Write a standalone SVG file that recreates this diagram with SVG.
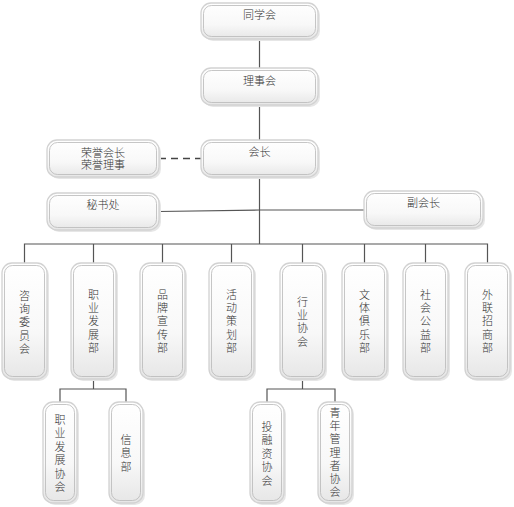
<svg xmlns="http://www.w3.org/2000/svg" width="514" height="507" viewBox="0 0 514 507">
<defs>
<linearGradient id="g" x1="0" y1="0" x2="0" y2="1">
<stop offset="0" stop-color="#ffffff"/>
<stop offset="0.6" stop-color="#f8f8f8"/>
<stop offset="1" stop-color="#e6e6e6"/>
</linearGradient>
</defs>
<style>
.o{fill:url(#g);stroke:#d2d2d2;stroke-width:1.3}
.i{fill:none;stroke:#b8b8b8;stroke-width:0.8}
.sh{fill:#e6e6e6}
.t{font-family:"Liberation Sans","Noto Sans CJK SC","Noto Sans CJK JP",sans-serif;font-size:11px;font-weight:300;fill:#333;text-anchor:middle}
.c{fill:none;stroke:#555;stroke-width:1.2}
.d{fill:none;stroke:#444;stroke-width:1.3;stroke-dasharray:7,5}
</style>
<rect width="514" height="507" fill="#fff"/>
<g id="connectors">
<line class="c" x1="259.5" y1="39" x2="259.5" y2="68"/>
<line class="c" x1="259.5" y1="105" x2="259.5" y2="140"/>
<line class="c" x1="259.5" y1="177" x2="259.5" y2="244"/>
<line class="d" x1="159" y1="158.5" x2="201" y2="158.5"/>
<line class="c" x1="159" y1="211.5" x2="259.5" y2="210"/>
<line class="c" x1="259.5" y1="210" x2="364" y2="210"/>
<polyline class="c" points="24.5,263 24.5,244 487.5,244 487.5,263"/>
<line class="c" x1="93.5" y1="244" x2="93.5" y2="263"/>
<line class="c" x1="162.5" y1="244" x2="162.5" y2="263"/>
<line class="c" x1="231.5" y1="244" x2="231.5" y2="263"/>
<line class="c" x1="302.5" y1="244" x2="302.5" y2="263"/>
<line class="c" x1="364.5" y1="244" x2="364.5" y2="263"/>
<line class="c" x1="425.5" y1="244" x2="425.5" y2="263"/>
<line class="c" x1="93.5" y1="379" x2="93.5" y2="389"/>
<polyline class="c" points="60,402 60,389 126,389 126,402"/>
<line class="c" x1="302.5" y1="379" x2="302.5" y2="389"/>
<polyline class="c" points="267,402 267,389 335,389 335,402"/>
</g>
<g id="n-tongxuehui">
<rect class="sh" x="203" y="5" width="117" height="36" rx="10"/>
<rect class="o" x="201" y="3" width="117" height="36" rx="10"/>
<rect class="i" x="203.5" y="5.5" width="112" height="31" rx="8"/>
<text class="t" x="259.5" y="19">同学会</text>
</g>
<g id="n-lishihui">
<rect class="sh" x="203" y="70" width="117" height="37" rx="10"/>
<rect class="o" x="201" y="68" width="117" height="37" rx="10"/>
<rect class="i" x="203.5" y="70.5" width="112" height="32" rx="8"/>
<text class="t" x="259.5" y="85">理事会</text>
</g>
<g id="n-huizhang">
<rect class="sh" x="203" y="142" width="117" height="37" rx="10"/>
<rect class="o" x="201" y="140" width="117" height="37" rx="10"/>
<rect class="i" x="203.5" y="142.5" width="112" height="32" rx="8"/>
<text class="t" x="259.5" y="156">会长</text>
</g>
<g id="n-rongyu">
<rect class="sh" x="49" y="142" width="112" height="37" rx="10"/>
<rect class="o" x="47" y="140" width="112" height="37" rx="10"/>
<rect class="i" x="49.5" y="142.5" width="107" height="32" rx="8"/>
<text class="t" x="103" y="156.5">荣誉会长</text>
<text class="t" x="103" y="169.3">荣誉理事</text>
</g>
<g id="n-mishuchu">
<rect class="sh" x="49" y="195" width="112" height="37" rx="10"/>
<rect class="o" x="47" y="193" width="112" height="37" rx="10"/>
<rect class="i" x="49.5" y="195.5" width="107" height="32" rx="8"/>
<text class="t" x="103" y="209">秘书处</text>
</g>
<g id="n-fuhuizhang">
<rect class="sh" x="366" y="193" width="119" height="37" rx="10"/>
<rect class="o" x="364" y="191" width="119" height="37" rx="10"/>
<rect class="i" x="366.5" y="193.5" width="114" height="32" rx="8"/>
<text class="t" x="423.5" y="207">副会长</text>
</g>
<g id="n-zixun">
<rect class="sh" x="4" y="265" width="45" height="116" rx="10"/>
<rect class="o" x="2" y="263" width="45" height="116" rx="10"/>
<rect class="i" x="4.5" y="265.5" width="40" height="111" rx="8"/>
<text class="t" x="24.5" y="300"><tspan x="24.5">咨</tspan><tspan x="24.5" dy="13.2">询</tspan><tspan x="24.5" dy="13.2">委</tspan><tspan x="24.5" dy="13.2">员</tspan><tspan x="24.5" dy="13.2">会</tspan></text>
</g>
<g id="n-zhiye">
<rect class="sh" x="73" y="265" width="45" height="116" rx="10"/>
<rect class="o" x="71" y="263" width="45" height="116" rx="10"/>
<rect class="i" x="73.5" y="265.5" width="40" height="111" rx="8"/>
<text class="t" x="93.5" y="299"><tspan x="93.5">职</tspan><tspan x="93.5" dy="13.2">业</tspan><tspan x="93.5" dy="13.2">发</tspan><tspan x="93.5" dy="13.2">展</tspan><tspan x="93.5" dy="13.2">部</tspan></text>
</g>
<g id="n-pinpai">
<rect class="sh" x="142" y="265" width="45" height="116" rx="10"/>
<rect class="o" x="140" y="263" width="45" height="116" rx="10"/>
<rect class="i" x="142.5" y="265.5" width="40" height="111" rx="8"/>
<text class="t" x="162.5" y="299"><tspan x="162.5">品</tspan><tspan x="162.5" dy="13.2">牌</tspan><tspan x="162.5" dy="13.2">宣</tspan><tspan x="162.5" dy="13.2">传</tspan><tspan x="162.5" dy="13.2">部</tspan></text>
</g>
<g id="n-huodong">
<rect class="sh" x="211" y="265" width="45" height="116" rx="10"/>
<rect class="o" x="209" y="263" width="45" height="116" rx="10"/>
<rect class="i" x="211.5" y="265.5" width="40" height="111" rx="8"/>
<text class="t" x="231.5" y="299"><tspan x="231.5">活</tspan><tspan x="231.5" dy="13.2">动</tspan><tspan x="231.5" dy="13.2">策</tspan><tspan x="231.5" dy="13.2">划</tspan><tspan x="231.5" dy="13.2">部</tspan></text>
</g>
<g id="n-hangye">
<rect class="sh" x="282" y="265" width="45" height="116" rx="10"/>
<rect class="o" x="280" y="263" width="45" height="116" rx="10"/>
<rect class="i" x="282.5" y="265.5" width="40" height="111" rx="8"/>
<text class="t" x="302.5" y="306"><tspan x="302.5">行</tspan><tspan x="302.5" dy="13.2">业</tspan><tspan x="302.5" dy="13.2">协</tspan><tspan x="302.5" dy="13.2">会</tspan></text>
</g>
<g id="n-wenti">
<rect class="sh" x="344" y="265" width="45" height="116" rx="10"/>
<rect class="o" x="342" y="263" width="45" height="116" rx="10"/>
<rect class="i" x="344.5" y="265.5" width="40" height="111" rx="8"/>
<text class="t" x="364.5" y="299"><tspan x="364.5">文</tspan><tspan x="364.5" dy="13.2">体</tspan><tspan x="364.5" dy="13.2">俱</tspan><tspan x="364.5" dy="13.2">乐</tspan><tspan x="364.5" dy="13.2">部</tspan></text>
</g>
<g id="n-shehui">
<rect class="sh" x="405" y="265" width="45" height="116" rx="10"/>
<rect class="o" x="403" y="263" width="45" height="116" rx="10"/>
<rect class="i" x="405.5" y="265.5" width="40" height="111" rx="8"/>
<text class="t" x="425.5" y="299"><tspan x="425.5">社</tspan><tspan x="425.5" dy="13.2">会</tspan><tspan x="425.5" dy="13.2">公</tspan><tspan x="425.5" dy="13.2">益</tspan><tspan x="425.5" dy="13.2">部</tspan></text>
</g>
<g id="n-wailian">
<rect class="sh" x="467" y="265" width="45" height="116" rx="10"/>
<rect class="o" x="465" y="263" width="45" height="116" rx="10"/>
<rect class="i" x="467.5" y="265.5" width="40" height="111" rx="8"/>
<text class="t" x="487.5" y="299"><tspan x="487.5">外</tspan><tspan x="487.5" dy="13.2">联</tspan><tspan x="487.5" dy="13.2">招</tspan><tspan x="487.5" dy="13.2">商</tspan><tspan x="487.5" dy="13.2">部</tspan></text>
</g>
<g id="n-zhiyexiehui">
<rect class="sh" x="45" y="404" width="34" height="101" rx="10"/>
<rect class="o" x="43" y="402" width="34" height="101" rx="10"/>
<rect class="i" x="45.5" y="404.5" width="29" height="96" rx="8"/>
<text class="t" x="60" y="424"><tspan x="60">职</tspan><tspan x="60" dy="13.4">业</tspan><tspan x="60" dy="13.4">发</tspan><tspan x="60" dy="13.4">展</tspan><tspan x="60" dy="13.4">协</tspan><tspan x="60" dy="13.4">会</tspan></text>
</g>
<g id="n-xinxi">
<rect class="sh" x="111" y="404" width="34" height="101" rx="10"/>
<rect class="o" x="109" y="402" width="34" height="101" rx="10"/>
<rect class="i" x="111.5" y="404.5" width="29" height="96" rx="8"/>
<text class="t" x="126" y="444"><tspan x="126">信</tspan><tspan x="126" dy="13.4">息</tspan><tspan x="126" dy="13.4">部</tspan></text>
</g>
<g id="n-tourongzi">
<rect class="sh" x="252" y="404" width="34" height="101" rx="10"/>
<rect class="o" x="250" y="402" width="34" height="101" rx="10"/>
<rect class="i" x="252.5" y="404.5" width="29" height="96" rx="8"/>
<text class="t" x="267" y="431"><tspan x="267">投</tspan><tspan x="267" dy="13.4">融</tspan><tspan x="267" dy="13.4">资</tspan><tspan x="267" dy="13.4">协</tspan><tspan x="267" dy="13.4">会</tspan></text>
</g>
<g id="n-qingnian">
<rect class="sh" x="320" y="404" width="34" height="101" rx="10"/>
<rect class="o" x="318" y="402" width="34" height="101" rx="10"/>
<rect class="i" x="320.5" y="404.5" width="29" height="96" rx="8"/>
<text class="t" x="335" y="417"><tspan x="335">青</tspan><tspan x="335" dy="13.2">年</tspan><tspan x="335" dy="13.2">管</tspan><tspan x="335" dy="13.2">理</tspan><tspan x="335" dy="13.2">者</tspan><tspan x="335" dy="13.2">协</tspan><tspan x="335" dy="13.2">会</tspan></text>
</g>
</svg>
